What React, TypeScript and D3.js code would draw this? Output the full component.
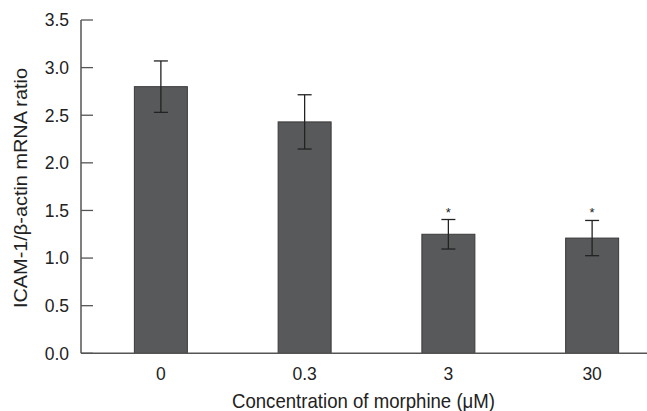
import { useEffect, useRef } from "react";
import * as d3 from "d3";

const categories = ["0", "0.3", "3", "30"];
const means = [2.8, 2.43, 1.25, 1.21];
const errors = [0.27, 0.285, 0.155, 0.185];
const significant = [false, false, true, true];
const yTicks = [0, 0.5, 1.0, 1.5, 2.0, 2.5, 3.0, 3.5];

const W = 647;
const H = 411;
const FONT = "'Liberation Sans', Arial, sans-serif";

export default function App() {
  const svgRef = useRef<SVGSVGElement | null>(null);

  useEffect(() => {
    const svg = d3.select(svgRef.current);
    svg.selectAll("*").remove();

    const axisX = 81;
    const y = d3.scaleLinear().domain([0, 3.5]).range([353.3, 20]);
    const x = d3.scaleBand<string>().domain(categories).range([89, 664]).padding(0);
    const barW = 53;
    const axisColor = "#555";

    // bars
    svg
      .selectAll("rect.bar")
      .data(categories)
      .join("rect")
      .attr("class", "bar")
      .attr("x", (d) => x(d)! + x.bandwidth() / 2 - barW / 2)
      .attr("width", barW)
      .attr("y", (_, i) => y(means[i]))
      .attr("height", (_, i) => y(0) - y(means[i]))
      .attr("fill", "#58595b")
      .attr("stroke", "#3a3a3c")
      .attr("stroke-width", 1);

    // error bars
    const cap = 7;
    categories.forEach((c, i) => {
      const cx = x(c)! + x.bandwidth() / 2;
      const hi = y(means[i] + errors[i]);
      const lo = y(means[i] - errors[i]);
      const g = svg.append("g").attr("stroke", "#222").attr("stroke-width", 1.3);
      g.append("line").attr("x1", cx).attr("x2", cx).attr("y1", hi).attr("y2", lo);
      g.append("line").attr("x1", cx - cap).attr("x2", cx + cap).attr("y1", hi).attr("y2", hi);
      g.append("line").attr("x1", cx - cap).attr("x2", cx + cap).attr("y1", lo).attr("y2", lo);
      if (significant[i]) {
        svg
          .append("text")
          .attr("x", cx)
          .attr("y", hi - 3)
          .attr("text-anchor", "middle")
          .attr("font-family", FONT)
          .attr("font-size", 13)
          .attr("fill", "#222")
          .text("*");
      }
    });

    // y axis
    svg
      .append("line")
      .attr("x1", axisX)
      .attr("x2", axisX)
      .attr("y1", y(3.5))
      .attr("y2", y(0))
      .attr("stroke", axisColor)
      .attr("stroke-width", 1.5);
    yTicks.forEach((t) => {
      svg
        .append("line")
        .attr("x1", axisX)
        .attr("x2", axisX + 12)
        .attr("y1", y(t))
        .attr("y2", y(t))
        .attr("stroke", axisColor)
        .attr("stroke-width", 1.3);
      svg
        .append("text")
        .attr("x", 69)
        .attr("y", y(t))
        .attr("dy", "0.36em")
        .attr("text-anchor", "end")
        .attr("font-family", FONT)
        .attr("font-size", 17.5)
        .attr("fill", "#222")
        .text(t.toFixed(1));
    });

    // x axis
    svg
      .append("line")
      .attr("x1", axisX)
      .attr("x2", W)
      .attr("y1", y(0))
      .attr("y2", y(0))
      .attr("stroke", axisColor)
      .attr("stroke-width", 1.5);
    categories.forEach((c) => {
      svg
        .append("text")
        .attr("x", x(c)! + x.bandwidth() / 2)
        .attr("y", 380)
        .attr("text-anchor", "middle")
        .attr("font-family", FONT)
        .attr("font-size", 17.5)
        .attr("fill", "#222")
        .text(c);
    });

    svg
      .append("text")
      .attr("x", 232)
      .attr("y", 408)
      .attr("font-family", FONT)
      .attr("font-size", 21)
      .attr("fill", "#222")
      .attr("textLength", 263)
      .attr("lengthAdjust", "spacingAndGlyphs")
      .text("Concentration of morphine (μM)");

    svg
      .append("text")
      .attr("transform", `translate(27, 308) rotate(-90)`)
      .attr("font-family", FONT)
      .attr("font-size", 19)
      .attr("fill", "#222")
      .attr("textLength", 240)
      .attr("lengthAdjust", "spacingAndGlyphs")
      .text("ICAM-1/β-actin mRNA ratio");
  }, []);

  return (
    <svg
      ref={svgRef}
      width={W}
      height={H}
      viewBox={`0 0 ${W} ${H}`}
      style={{ position: "absolute", left: 0, top: 0, background: "#fff" }}
    />
  );
}
